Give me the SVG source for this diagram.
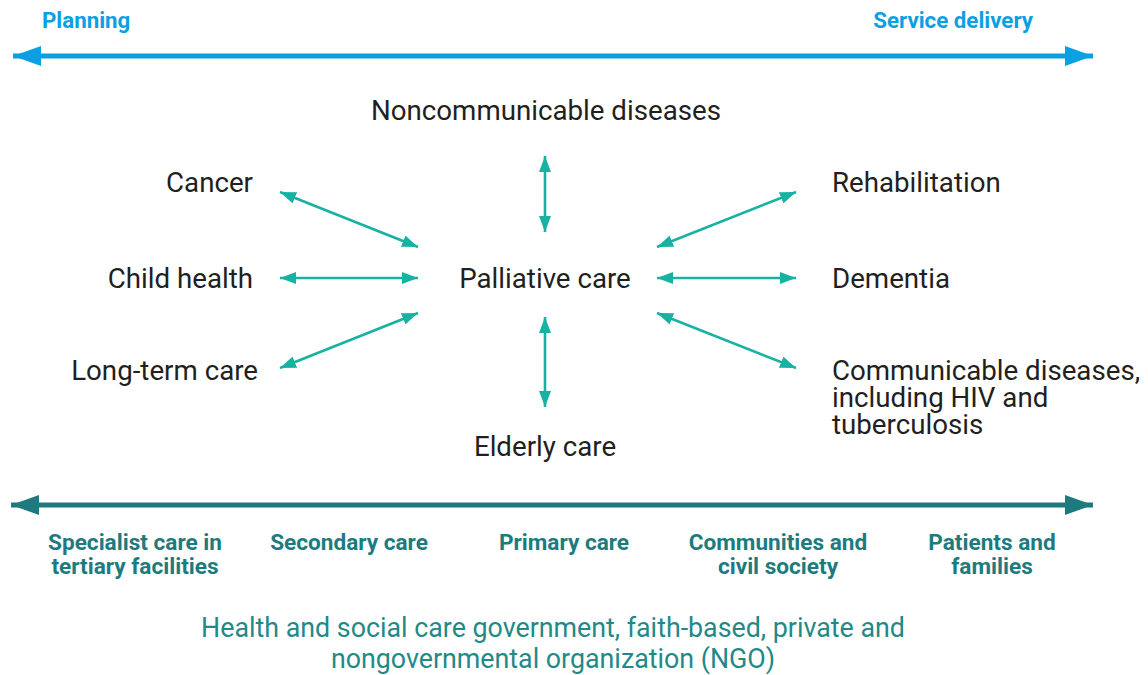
<svg xmlns="http://www.w3.org/2000/svg" width="1148" height="675" viewBox="0 0 1148 675">
<style>
.lbl{font-family:Roboto,"Liberation Sans",sans-serif;font-size:27.7px;fill:#231f20}
.top{font-family:Roboto,"Liberation Sans",sans-serif;font-size:22.3px;font-weight:bold;fill:#0aa0e2}
.bot{font-family:Roboto,"Liberation Sans",sans-serif;font-size:22.6px;font-weight:bold;fill:#1d7b7f;text-anchor:middle}
.cap{font-family:Roboto,"Liberation Sans",sans-serif;font-size:26.8px;fill:#1f8a88;text-anchor:middle}
.con{stroke:#17b2a2;stroke-width:2.6;fill:none;marker-start:url(#ah);marker-end:url(#ah)}
</style>
<defs>
<marker id="ah" viewBox="0 0 16 12" refX="16" refY="6" markerWidth="16" markerHeight="12" markerUnits="userSpaceOnUse" orient="auto-start-reverse"><path d="M0,0L16,6L0,12Z" fill="#17b2a2"/></marker>
<marker id="bh" viewBox="0 0 28 20" refX="28" refY="10" markerWidth="28" markerHeight="20" markerUnits="userSpaceOnUse" orient="auto-start-reverse"><path d="M0,0L28,10L0,20Z" fill="#0aa0e2"/></marker>
<marker id="th" viewBox="0 0 28 20" refX="28" refY="10" markerWidth="28" markerHeight="20" markerUnits="userSpaceOnUse" orient="auto-start-reverse"><path d="M0,0L28,10L0,20Z" fill="#1d7b7f"/></marker>
</defs>
<g id="axis-top">
<line x1="13" y1="56" x2="1093" y2="56" stroke="#0aa0e2" stroke-width="5" marker-start="url(#bh)" marker-end="url(#bh)"/>
<text class="top" x="42" y="28">Planning</text>
<text class="top" x="1033" y="28" text-anchor="end">Service delivery</text>
</g>
<g id="connectors">
<line class="con" x1="280" y1="192" x2="418" y2="247"/>
<line class="con" x1="280" y1="278" x2="418" y2="278"/>
<line class="con" x1="280" y1="368" x2="418" y2="313"/>
<line class="con" x1="545" y1="156" x2="545" y2="232"/>
<line class="con" x1="545" y1="317" x2="545" y2="407"/>
<line class="con" x1="657" y1="247" x2="796" y2="192"/>
<line class="con" x1="657" y1="278" x2="796" y2="278"/>
<line class="con" x1="657" y1="313" x2="796" y2="368"/>
</g>
<g id="palliative"><text class="lbl" x="545" y="288" text-anchor="middle">Palliative care</text></g>
<g id="ncd"><text class="lbl" x="546" y="120" text-anchor="middle">Noncommunicable diseases</text></g>
<g id="elderly"><text class="lbl" x="545" y="456" text-anchor="middle">Elderly care</text></g>
<g id="cancer"><text class="lbl" x="253" y="192" text-anchor="end">Cancer</text></g>
<g id="child"><text class="lbl" x="253" y="288" text-anchor="end">Child health</text></g>
<g id="longterm"><text class="lbl" x="258" y="380" text-anchor="end">Long-term care</text></g>
<g id="rehab"><text class="lbl" x="832" y="192">Rehabilitation</text></g>
<g id="dementia"><text class="lbl" x="832" y="288">Dementia</text></g>
<g id="communicable"><text class="lbl" x="832" y="380">Communicable diseases,<tspan x="832" y="407">including HIV and</tspan><tspan x="832" y="434">tuberculosis</tspan></text></g>
<g id="axis-bottom">
<line x1="11" y1="505" x2="1093" y2="505" stroke="#1d7b7f" stroke-width="5" marker-start="url(#th)" marker-end="url(#th)"/>
<text class="bot" x="135" y="550">Specialist care in<tspan x="135" y="574">tertiary facilities</tspan></text>
<text class="bot" x="349" y="550">Secondary care</text>
<text class="bot" x="564" y="550">Primary care</text>
<text class="bot" x="778" y="550">Communities and<tspan x="778" y="574">civil society</tspan></text>
<text class="bot" x="992" y="550">Patients and<tspan x="992" y="574">families</tspan></text>
</g>
<g id="caption">
<text class="cap" x="553" y="637">Health and social care government, faith-based, private and<tspan x="553" y="668">nongovernmental organization (NGO)</tspan></text>
</g>
</svg>
